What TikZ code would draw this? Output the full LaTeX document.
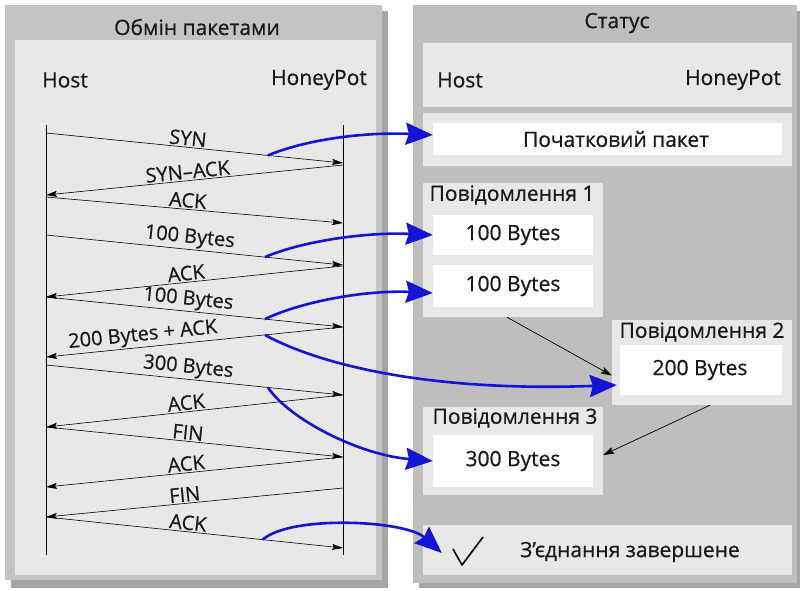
\documentclass[tikz,border=0pt]{standalone}
\usepackage{fontspec}
\setmainfont{Open Sans}
\usetikzlibrary{arrows.meta,calc}
\definecolor{panelL}{RGB}{196,196,196}
\definecolor{panelR}{RGB}{190,190,190}
\definecolor{shadowc}{RGB}{165,165,165}
\definecolor{innerc}{RGB}{232,232,232}
\definecolor{bluearr}{RGB}{20,20,215}
\definecolor{textc}{RGB}{25,25,25}
\begin{document}
\begin{tikzpicture}[x=1pt,y=-1pt,
  txt/.style={inner sep=0pt, text=textc, font=\fontsize{21}{23}\selectfont\addfontfeature{FakeBold=0.7}},
  lightbox/.style={fill=innerc, inner sep=0pt},
  whitebox/.style={fill=white, inner sep=0pt},
  lifeline/.style={draw=black, line width=0.8pt},
  msg/.style={draw=black, line width=0.6pt, -{Stealth[length=11pt,width=6pt,inset=2pt]}},
  lbl/.style={sloped, above, inner sep=1.5pt, text=textc, font=\fontsize{20}{22}\selectfont\addfontfeature{FakeBold=0.5}},
  bluelink/.style={draw=bluearr, line width=2.6pt, -{Stealth[length=27pt,width=22pt,inset=3pt]}},
  blacklink/.style={draw=black, line width=0.7pt, -{Stealth[length=11pt,width=7pt,inset=2pt]}}
]
\useasboundingbox (0,0) rectangle (800,590);
% left panel
\fill[shadowc] (11,11) rectangle (388,588);
\fill[panelL] (5,5) rectangle (382,580);
\fill[innerc] (15,40) rectangle (376,575);
% right panel
\fill[shadowc] (419,11) rectangle (800,588);
\fill[panelR] (413,5) rectangle (797,583);

\node[txt] (tL) at (197,27) {Обмін пакетами};
\node[txt] (tR) at (617,23) {Статус};
\node[txt] (hostL) at (65,80) {Host};
\node[txt] (potL) at (319,80) {HoneyPot};

% right boxes
\node[lightbox, minimum width=369pt, minimum height=64pt] (hdr) at (607.5,75) {};
\node[txt] (hostR) at (460,80) {Host};
\node[txt] (potR) at (733,80) {HoneyPot};

\node[lightbox, minimum width=369pt, minimum height=53pt] (initg) at (607.5,139.5) {};
\node[whitebox, minimum width=349pt, minimum height=32pt] (init) at (607.5,139) {};
\node[txt] (initt) at (616,139) {Початковий пакет};

\node[lightbox, minimum width=180pt, minimum height=134pt] (g1) at (513,250) {};
\node[txt] (g1t) at (512,195) {Повідомлення 1};
\node[whitebox, minimum width=160pt, minimum height=40pt] (m1a) at (513,235) {};
\node[txt] (m1at) at (513,235) {100 Bytes};
\node[whitebox, minimum width=160pt, minimum height=42pt] (m1b) at (513,286) {};
\node[txt] (m1bt) at (513,286) {100 Bytes};

\node[lightbox, minimum width=180pt, minimum height=85pt] (g2) at (702,362.5) {};
\node[txt] (g2t) at (702,332) {Повідомлення 2};
\node[whitebox, minimum width=162pt, minimum height=50pt] (m2) at (701,370) {};
\node[txt] (m2t) at (700,370) {200 Bytes};

\node[lightbox, minimum width=180pt, minimum height=88pt] (g3) at (513,451) {};
\node[txt] (g3t) at (515,418) {Повідомлення 3};
\node[whitebox, minimum width=160pt, minimum height=52pt] (m3) at (513,461) {};
\node[txt] (m3t) at (513,461) {300 Bytes};

\node[lightbox, minimum width=369pt, minimum height=50pt] (done) at (607.5,550) {};
\node[txt] (donet) at (630,552) {З’єднання завершене};
\coordinate (ck1) at (453,549);
\coordinate (ck2) at (462,565);
\coordinate (ck3) at (483,537);
\draw[line width=1.6pt, line join=round] (ck1) -- (ck2) -- (ck3);

% lifelines
\coordinate (hT) at (46,125); \coordinate (hB) at (46,555);
\coordinate (pT) at (343,125); \coordinate (pB) at (343,555);
\draw[lifeline] (hT) -- (hB);
\draw[lifeline] (pT) -- (pB);

% message endpoints
\coordinate (a1) at (46,133);  \coordinate (z1) at (343,163);
\coordinate (a2) at (343,165); \coordinate (z2) at (46,195);
\coordinate (a3) at (46,197);  \coordinate (z3) at (343,223);
\coordinate (a4) at (46,235);  \coordinate (z4) at (343,265);
\coordinate (a5) at (343,266); \coordinate (z5) at (46,297);
\coordinate (a6) at (46,297);  \coordinate (z6) at (343,327);
\coordinate (a7) at (343,327); \coordinate (z7) at (46,357);
\coordinate (a8) at (46,365);  \coordinate (z8) at (343,395);
\coordinate (a9) at (343,395); \coordinate (z9) at (46,427);
\coordinate (a10) at (46,427); \coordinate (z10) at (343,457);
\coordinate (a11) at (343,457);\coordinate (z11) at (46,487);
\coordinate (a12) at (343,488);\coordinate (z12) at (46,517);
\coordinate (a13) at (46,517); \coordinate (z13) at (343,548);

\draw[msg] (a1) -- node[lbl, pos=0.475] (l1) {SYN} coordinate[pos=0.747] (b1) (z1);
\draw[msg] (a2) -- node[lbl, pos=0.52] (l2) {SYN–ACK} (z2);
\draw[msg] (a3) -- node[lbl, pos=0.475] (l3) {ACK} (z3);
\draw[msg] (a4) -- node[lbl, pos=0.48] (l4) {100 Bytes} coordinate[pos=0.737] (b2) (z4);
\draw[msg] (a5) -- node[lbl, pos=0.525] (l5) {ACK} (z5);
\draw[msg] (a6) -- node[lbl, pos=0.475] (l6) {100 Bytes} coordinate[pos=0.737] (b3) (z6);
\draw[msg] (a7) -- node[lbl, pos=0.67] (l7) {200 Bytes + ACK} coordinate[pos=0.263] (b4) (z7);
\draw[msg] (a8) -- node[lbl, pos=0.475] (l8) {300 Bytes} coordinate[pos=0.747] (b5) (z8);
\draw[msg] (a9) -- node[lbl, pos=0.525] (l9) {ACK} (z9);
\draw[msg] (a10) -- node[lbl, pos=0.475] (l10) {FIN} (z10);
\draw[msg] (a11) -- node[lbl, pos=0.525] (l11) {ACK} (z11);
\draw[msg] (a12) -- node[lbl, pos=0.53] (l12) {FIN} (z12);
\draw[msg] (a13) -- node[lbl, pos=0.475] (l13) {ACK} coordinate[pos=0.73] (b6) (z13);

% black links between messages
\draw[blacklink] ([xshift=-6pt]g1.south) -- ([yshift=-13pt]g2.west);
\draw[blacklink] ([xshift=8pt]g2.south) -- ([yshift=-4pt]g3.east);

% blue links
\draw[bluelink] (b1) .. controls (310,138) and (370,132) .. ([yshift=4pt]init.west);
\draw[bluelink] (b2) .. controls (305,240) and (370,232) .. (m1a.west);
\draw[bluelink] (b3) .. controls (305,300) and (370,290) .. ([yshift=-7pt]m1b.west);
\draw[bluelink] (b4) .. controls (320,365) and (430,392) .. ([xshift=-3pt,yshift=-15pt]m2.west);
\draw[bluelink] (b5) .. controls (290,420) and (360,455) .. (m3.west);
\draw[bluelink] (b6) .. controls (290,515) and (405,520) .. ([xshift=19pt,yshift=-3pt]done.west);
\end{tikzpicture}
\end{document}
